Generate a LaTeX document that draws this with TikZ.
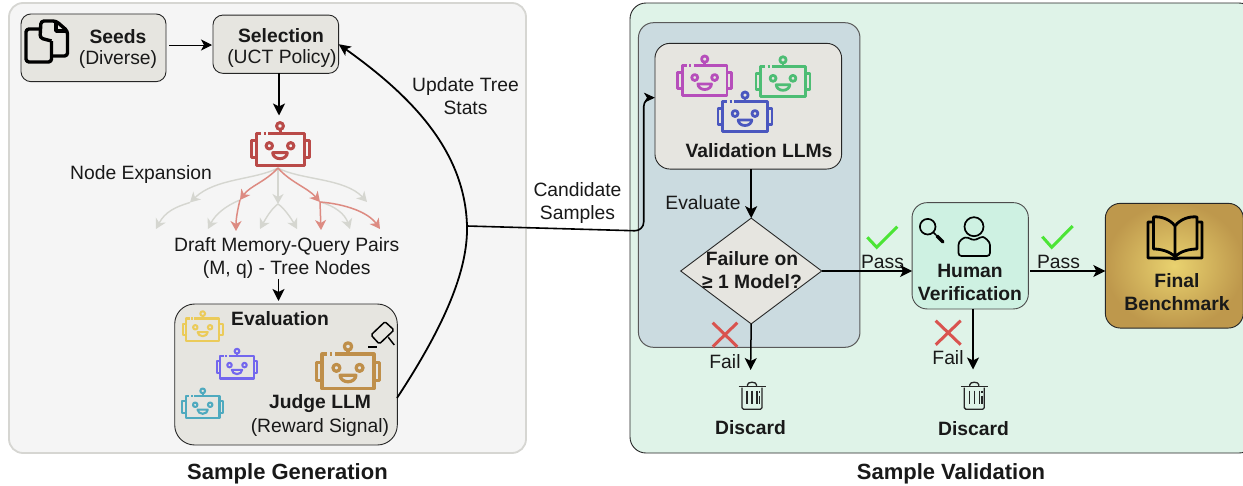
\documentclass[tikz,border=0pt]{standalone}
\usepackage{fontspec}
\setmainfont{Liberation Sans}
\usetikzlibrary{arrows.meta,shapes.geometric,calc}
\definecolor{panelL}{HTML}{F5F5F5}
\definecolor{panelLd}{HTML}{D6D6D2}
\definecolor{panelR}{HTML}{DFF3E8}
\definecolor{panelB}{HTML}{CBDBE0}
\definecolor{boxg}{HTML}{E6E5E0}
\definecolor{humanc}{HTML}{CEF1E2}
\definecolor{treeg}{HTML}{D5D6D0}
\definecolor{treer}{HTML}{DD8B82}
\definecolor{rred}{HTML}{B94A48}
\definecolor{ryellow}{HTML}{EBCB5A}
\definecolor{rpurple}{HTML}{7367EE}
\definecolor{rteal}{HTML}{4FAABF}
\definecolor{rbrown}{HTML}{BF8F4A}
\definecolor{rmag}{HTML}{B64EBB}
\definecolor{rgreen}{HTML}{4DBD74}
\definecolor{rblue}{HTML}{4A57BF}
\definecolor{okc}{HTML}{4BE535}
\definecolor{noc}{HTML}{D9534F}
\definecolor{goldin}{HTML}{E9D26F}
\definecolor{goldout}{HTML}{BE984C}
\tikzset{
  x=1pt,y=-1pt,
  every node/.style={font=\fontsize{19.3}{23}\selectfont,inner sep=0pt,outer sep=0pt,text=black!90},
  bfont/.style={font=\fontsize{19.3}{23}\selectfont\bfseries},
  head/.style={font=\fontsize{22}{26}\selectfont\bfseries},
  rbox/.style={draw=black!85,line width=0.9pt,fill=boxg,rectangle,rounded corners=#1},
  arr/.style={-{Stealth[length=12pt,width=12pt,inset=3pt]},line width=1.8pt,black},
  thinarr/.style={-{Stealth[length=11pt,width=11pt,inset=3pt]},line width=1pt,black},
  tg/.style={-{Stealth[length=10pt,width=11pt,inset=3pt]},line width=1.4pt,treeg},
  tr/.style={-{Stealth[length=10pt,width=11pt,inset=3pt]},line width=1.5pt,treer},
  pics/robot/.style 2 args={code={
    \begin{scope}[scale=#2,line width=3pt*#2,draw=#1,line join=round]
      \draw (-12,-16) -- (24,-16) -- (24,16) -- (-24,16) -- (-24,-16) -- (-19,-16);
      \draw (-16.5,-16) -- (-14.5,-16);
      \draw (-24,-8.5) -- (-29,-8.5) -- (-29,8.5) -- (-24,8.5);
      \draw (24,-8.5) -- (29,-8.5) -- (29,8.5) -- (24,8.5);
      \draw (0,-16) -- (0,-19.5);
      \draw (0,-23) circle (3.4);
      \draw (-10.7,-3.2) circle (3.2);
      \draw (10.7,-3.2) circle (3.2);
      \draw (-7.3,3.7) -- (7.3,3.7) arc[start angle=0,end angle=-180,x radius=7.3,y radius=-6] -- cycle;
    \end{scope}}},
  pics/trash/.style={code={
    \begin{scope}[line width=1.3pt,draw=black!85]
      \draw (-13.5,0) -- (13.5,0);
      \draw (-4.5,0) -- (-4.5,-2) arc[start angle=180,end angle=0,radius=4.5,y radius=-2.5] -- (4.5,0);
      \draw[rounded corners=1.5pt] (-10,1) -- (-10,22.5) -- (10,22.5) -- (10,1);
      \draw (-5,4) -- (-5,17) (0,4) -- (0,17) (5,4) -- (5,17);
      \draw (7.8,4) -- (7.8,6) (7.8,9) -- (7.8,17);
    \end{scope}}}
}
\begin{document}
\begin{tikzpicture}
\useasboundingbox (0,0) rectangle (1243,485);
\fill[white] (0,0) rectangle (1243,485);
% panels
\node[draw=panelLd,line width=1.8pt,fill=panelL,rectangle,rounded corners=14pt,minimum width=517pt,minimum height=450pt] (genpanel) at (267.5,228) {};
\node[draw=black!85,line width=0.9pt,fill=panelR,rectangle,rounded corners=16pt,minimum width=625pt,minimum height=450pt] (valpanel) at (942.5,228) {};
\node[draw=black!65,line width=1pt,fill=panelB,rectangle,rounded corners=15pt,minimum width=221.5pt,minimum height=324.6pt] (llmpanel) at (749.2,185) {};
% boxes
\node[rbox=10pt,minimum width=145pt,minimum height=67.7pt] (seeds) at (93.5,47.8) {};
\node[rbox=10pt,minimum width=125.7pt,minimum height=58.3pt] (select) at (275.8,44.2) {};
\node[rbox=20pt,minimum width=222.6pt,minimum height=141pt] (eval) at (286,374.5) {};
\node[rbox=15pt,minimum width=186.7pt,minimum height=125.7pt] (vllm) at (748.3,106.2) {};
\node[draw=black!85,line width=0.9pt,fill=boxg,diamond,aspect=1.335,minimum width=141pt,minimum height=105.7pt] (fail) at (751.2,271) {};
\node[rbox=15pt,fill=humanc,draw=black!70,minimum width=116.3pt,minimum height=106.3pt] (human) at (970.2,255.8) {};
\node[draw=black!85,line width=0.9pt,rectangle,rounded corners=15pt,inner color=goldin,outer color=goldout,minimum width=138pt,minimum height=124.7pt] (final) at (1174.3,265.7) {};
% texts
\node[bfont] (tseeds) at (118,37) {Seeds};
\node (tdiverse) at (118,60) {(Diverse)};
\node[bfont] (tsel) at (281,35.5) {Selection};
\node (tuct) at (282,58.5) {(UCT Policy)};
\node (texp) at (141,174.5) {Node Expansion};
\node[align=center] (draft) at (286.7,258.5) {Draft Memory-Query Pairs\\(M, q) - Tree Nodes};
\node[bfont] (teval) at (280,318.5) {Evaluation};
\node[bfont] (tjudge) at (320,404) {Judge LLM};
\node (treward) at (320,428) {(Reward Signal)};
\node[align=center] (tupdate) at (465.5,96) {Update Tree\\Stats};
\node[align=center] (tcand) at (577.5,203.5) {Candidate\\Samples};
\node[bfont] (tvllm) at (759,150.5) {Validation LLMs};
\node (tevaluate) at (703,203) {Evaluate};
\node[bfont,align=center] (tfail) at (752,270.5) {Failure on\\≥ 1 Model?};
\node[bfont,align=center] (thuman) at (970,282.5) {Human\\Verification};
\node[bfont,align=center] (tfinal) at (1177,292) {Final\\Benchmark};
\node (tpass1) at (882.5,262) {Pass};
\node (tpass2) at (1058.5,262) {Pass};
\node (tfail1) at (725,362) {Fail};
\node (tfail2) at (948,358) {Fail};
\node[bfont] (td1) at (750.5,428) {Discard};
\node[bfont] (td2) at (973.5,429) {Discard};
\node[head] (tgen) at (287.5,474) {Sample Generation};
\node[head] (tval) at (951,474) {Sample Validation};
% robots
\pic at (280,149) {robot={rred}{1}};
\pic at (202.7,329.5) {robot={ryellow}{0.69}};
\pic at (237,367.3) {robot={rpurple}{0.7}};
\pic at (202.7,407) {robot={rteal}{0.7}};
\pic at (348,371.3) {robot={rbrown}{1.08}};
\pic at (704.7,80.5) {robot={rmag}{0.93}};
\pic at (783,81.3) {robot={rgreen}{0.93}};
\pic at (745,116.5) {robot={rblue}{0.93}};
% free-end coordinates
\coordinate (robotin) at (279,115.5);
\coordinate (root) at (278,168);
\coordinate (a1) at (190,202.5);
\coordinate (a2) at (240,200);
\coordinate (a3) at (278,204);
\coordinate (a4) at (320,202);
\coordinate (a5) at (367,202);
\coordinate (b1) at (156,229);
\coordinate (b2) at (208,229);
\coordinate (b3) at (236,231);
\coordinate (b4) at (260,229);
\coordinate (b5) at (297,229);
\coordinate (b6) at (321,230);
\coordinate (b7) at (350,229);
\coordinate (b8) at (380,229);
\coordinate (discard1) at (750.6,370);
\coordinate (discard2) at (973,369.5);
\coordinate (updstart) at (397,398);
\coordinate (updmid) at (467,226);
\coordinate (seedsout) at (169,45);
\coordinate (seedsin) at (212,45);
\coordinate (draftarr) at (278.5,301);
% tree grey
\draw[tg] (root) .. controls (255,180) and (215,178) .. (a1);
\draw[tg] (a1) .. controls (175,207) and (165,212) .. (b1);
\draw[tg] (a2) .. controls (225,206) and (215,215) .. (b2);
\draw[tg] (root) -- (a3);
\draw[tg] (a3) .. controls (272,208) and (266,218) .. (b4);
\draw[tg] (a3) .. controls (284,208) and (291,218) .. (b5);
\draw[tg] (root) .. controls (300,180) and (345,178) .. (a5);
\draw[tg] (a4) .. controls (335,206) and (345,214) .. (b7);
% tree red
\draw[tr] (root) .. controls (265,182) and (250,186) .. (a2);
\draw[tr] (a2) .. controls (238,208) and (236,218) .. (b3);
\draw[tr] (root) .. controls (290,182) and (308,188) .. (a4);
\draw[tr] (a4) -- (b6);
\draw[tr] (a4) .. controls (345,204) and (368,212) .. (b8);
% connectors
\draw[thinarr] (seedsout) -- (seedsin);
\draw[arr] (select.south -| robotin) -- (robotin);
\draw[arr] (draft.south -| draftarr) -- (draftarr);
\draw[line width=1.8pt,-{Stealth[length=12pt,width=11pt,inset=3pt]}] (updstart) .. controls (445,325) and (468,270) .. (updmid) .. controls (465,150) and (410,95) .. (select.east);
\draw[line width=1.6pt,rounded corners=9pt,-{Stealth[length=11pt,width=10pt,inset=3pt]}] (updmid) -- (643.7,231) -- (643.7,97.7) -- (vllm.west |- 0,97.7);
\draw[arr,line width=1.5pt] (vllm.south -| fail.north) -- (fail.north);
\draw[arr,line width=1.5pt] (fail.east) -- (human.west |- fail.east);
\draw[arr,line width=1.5pt] (fail.south) -- (discard1);
\draw[arr,line width=1.5pt] (human.south -| discard2) -- (discard2);
\draw[arr,line width=1.5pt] ([xshift=2pt]human.east |- fail.east) -- (final.west |- fail.east);
% checks and crosses
\draw[okc,line width=3pt] (867.3,237.3) -- (876.7,247.3) -- (897.3,226.7);
\draw[okc,line width=3pt] (1042.3,236.7) -- (1051.7,247.3) -- (1072.7,226);
\draw[noc,line width=3pt] (712.7,322.7) -- (737.3,346.7) (737.3,322.7) -- (712.7,346.7);
\draw[noc,line width=3pt] (935.7,320.7) -- (960.7,344.7) (960.7,320.7) -- (935.7,344.7);
% trash
\pic at (752,386.7) {trash};
\pic at (974.3,386.7) {trash};
% docs icon
\begin{scope}[line width=3.4pt,line join=round,black]
  \draw[rounded corners=3pt] (51.5,41) -- (51.5,62) -- (26,62) -- (26,29) -- (40,29);
  \draw[rounded corners=3pt] (52,56) -- (67.5,56) -- (67.5,31) -- (56,21) -- (41,21) -- (40,38) -- (51.5,41);
  \draw (56,22) -- (56,31) -- (67,31);
\end{scope}
% gavel
\begin{scope}[line width=1.5pt,black]
  \draw[rounded corners=1.5pt] (371,335) -- (385,321.7) -- (394,330) -- (379.3,344) -- cycle;
  \draw (388.3,337.3) -- (394.3,345);
  \draw[line width=1.7pt] (368.3,347.3) -- (377.3,347.3);
\end{scope}
% person and magnifier
\begin{scope}[line width=1.7pt,black]
  \draw (974,226.7) circle (9.5);
  \draw[rounded corners=3pt] (958.5,256) -- (990,256) -- (990,248) .. controls (990,241) and (984,237) .. (980,237) .. controls (976,240) and (972,240) .. (968,237) .. controls (963,238) and (958.5,241) .. (958.5,248) -- cycle;
  \draw (927.7,226.7) circle (7.8);
  \draw (933,232) -- (936,235);
  \draw[line width=3.2pt,line cap=round] (937,236) -- (943,242);
\end{scope}
% book
\begin{scope}[line width=2.8pt,black,line join=round]
  \draw (1175,226) .. controls (1170,219) and (1160,216) .. (1153.5,217) -- (1153.5,249) .. controls (1160,249) and (1170,251) .. (1175,257) .. controls (1180,251) and (1190,249) .. (1197,249) -- (1197,217) .. controls (1190,216) and (1180,219) .. (1175,226) -- (1175,257);
  \draw (1153.5,222) -- (1148,222) -- (1148,258) -- (1170,258) -- (1175,259) -- (1180,258) -- (1202,258) -- (1202,222) -- (1197,222);
\end{scope}
\end{tikzpicture}
\end{document}
